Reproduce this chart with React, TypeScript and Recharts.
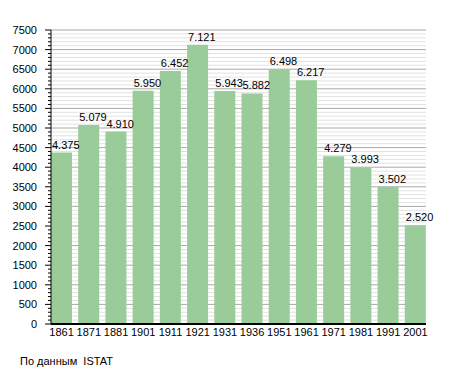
import React from "react";
import {
  BarChart,
  Bar,
  XAxis,
  YAxis,
  CartesianGrid,
  LabelList,
} from "recharts";

const years = ["1861", "1871", "1881", "1901", "1911", "1921", "1931", "1936", "1951", "1961", "1971", "1981", "1991", "2001"];
const population = [4375, 5079, 4910, 5950, 6452, 7121, 5943, 5882, 6498, 6217, 4279, 3993, 3502, 2520];
const majorTicks = [0, 500, 1000, 1500, 2000, 2500, 3000, 3500, 4000, 4500, 5000, 5500, 6000, 6500, 7000, 7500];
const allTicks = Array.from({ length: 76 }, (_, i) => i * 100);
const minorTicks = allTicks.filter((t) => t % 500 !== 0);

const data = years.map((year, i) => ({ year, value: population[i] }));

const FONT = "'Liberation Sans', Arial, sans-serif";

// 4375 -> "4.375"
const fmt = (v: number) => String(v).replace(/\B(?=(\d{3})+(?!\d))/g, ".");

const YTick = (props: any) => {
  const { x, y, payload } = props;
  const major = payload.value % 500 === 0;
  return (
    <g>
      <line x1={x - (major ? 6 : 3)} x2={x} y1={y} y2={y} stroke="#000" strokeWidth={1} />
      {major && (
        <text x={x - 14} y={y} dy="0.36em" textAnchor="end" fontSize={11} fontFamily={FONT} fill="#000">
          {payload.value}
        </text>
      )}
    </g>
  );
};

const ValueLabel = (props: any) => {
  const { x, y, value } = props;
  return (
    <text x={Number(x) + 1} y={Number(y) - 4} fontSize={11} fontFamily={FONT} fill="#000">
      {fmt(value)}
    </text>
  );
};

export default function App() {
  return (
    <div style={{ position: "absolute", left: 0, top: 0, width: 455, height: 373, background: "#fff" }}>
      <BarChart
        width={455}
        height={373}
        data={data}
        margin={{ top: 30, right: 29, bottom: 19, left: 0 }}
      >
        {/* minor grid every 100 */}
        <CartesianGrid vertical={false} horizontalValues={minorTicks} stroke="#e2e2e2" />
        {/* major grid every 500 */}
        <CartesianGrid vertical={false} horizontalValues={majorTicks} stroke="#a8a8a8" />
        <XAxis
          dataKey="year"
          tickLine={false}
          tickSize={0}
          tickMargin={4}
          padding={{ left: -3, right: -3 }}
          axisLine={{ stroke: "#000", strokeWidth: 2 }}
          tick={{ fontSize: 11, fontFamily: FONT, fill: "#000" }}
          interval={0}
        />
        <YAxis
          width={51}
          domain={[0, 7500]}
          ticks={allTicks}
          interval={0}
          tickSize={0}
          tickMargin={0}
          tickLine={false}
          axisLine={{ stroke: "#000", strokeWidth: 1 }}
          tick={<YTick />}
        />
        <Bar dataKey="value" fill="#99cc99" barSize={21} isAnimationActive={false}>
          <LabelList dataKey="value" content={<ValueLabel />} />
        </Bar>
      </BarChart>
      <div
        style={{
          position: "absolute",
          left: 20,
          top: 355,
          fontSize: 11,
          fontFamily: FONT,
          color: "#000",
          whiteSpace: "pre",
        }}
      >
        {"По данным  ISTAT"}
      </div>
    </div>
  );
}
